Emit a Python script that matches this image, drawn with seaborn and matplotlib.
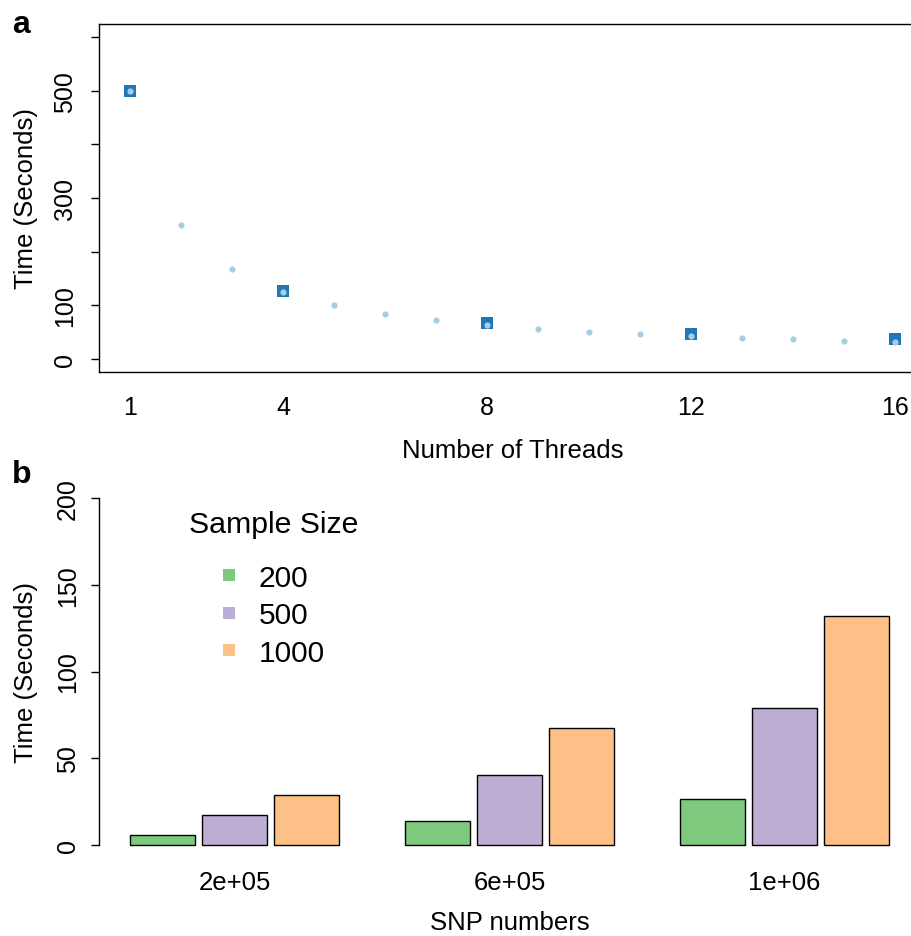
import matplotlib
matplotlib.use("Agg")
import matplotlib.pyplot as plt
from matplotlib.lines import Line2D
import seaborn as sns
import pandas as pd

# ---------------- data ----------------
threads = list(range(1, 17))
time_all = [500, 250, 167, 125, 100, 84, 72, 63, 56, 50, 46, 42, 38, 36, 33, 31]
threads_sel = [1, 4, 8, 12, 16]
time_sel = [500, 126, 66, 46, 36]
top_xticks = [1, 4, 8, 12, 16]
top_yticks = [0, 100, 200, 300, 400, 500, 600]
top_yticklabels = ["0", "100", "", "300", "", "500", ""]

snp_labels = ["2e+05", "6e+05", "1e+06"]
sample_sizes = ["200", "500", "1000"]
t200 = [5.9, 13.6, 26.7]
t500 = [17.4, 40.5, 78.8]
t1000 = [28.8, 67.2, 132.0]
bot_yticks = [0, 50, 100, 150, 200]

bar_colors = ["#7FC97F", "#BEAED4", "#FDC086"]
sq_color = "#1F78B4"
pt_color = "#A6CEE3"

sns.set_theme(style="white")
plt.rcParams["font.family"] = ["Liberation Sans", "DejaVu Sans"]
plt.rcParams["text.color"] = "black"

W, H = 911, 937
fig = plt.figure(figsize=(W / 100, H / 100), dpi=100)

def ax_rect(x0, y0, x1, y1):
    return [x0 / W, 1 - y1 / H, (x1 - x0) / W, (y1 - y0) / H]

# ---------------- panel a ----------------
ax1 = fig.add_axes(ax_rect(99.3, 25.2, 925.6, 372.6))
sns.scatterplot(x=threads_sel, y=time_sel, marker="s", s=72, color=sq_color,
                linewidth=0, ax=ax1, zorder=3)
sns.scatterplot(x=threads, y=time_all, marker="o", s=20, color=pt_color,
                linewidth=0, ax=ax1, zorder=4)
ax1.set_xlim(0.4, 16.6)
ax1.set_ylim(-24, 624)
ax1.set_xticks(top_xticks)
ax1.set_xticklabels([str(v) for v in top_xticks])
ax1.set_yticks(top_yticks)
ax1.set_yticklabels(top_yticklabels)
for sp in ax1.spines.values():
    sp.set_color("black")
    sp.set_linewidth(1.0)
ax1.tick_params(axis="x", length=0, pad=17, labelsize=18, colors="black")
ax1.tick_params(axis="y", length=6, width=1.0, pad=10, labelsize=18,
                colors="black", left=True)
plt.setp(ax1.get_yticklabels(), rotation=90, va="center")
ax1.set_xlabel("Number of Threads", fontsize=18.5, color="black", va="baseline")
ax1.xaxis.set_label_coords(0.5, -0.2458)
ax1.set_ylabel("Time (Seconds)", fontsize=18.5, color="black", va="baseline")
ax1.yaxis.set_label_coords(-0.0799, 0.5)

# ---------------- panel b ----------------
rows = []
for i, snp in enumerate(snp_labels):
    for ss, vals in zip(sample_sizes, [t200, t500, t1000]):
        rows.append({"snp": snp, "size": ss, "time": vals[i]})
df = pd.DataFrame(rows)

ax2 = fig.add_axes(ax_rect(99.3, 485.1, 919.6, 859.9))
sns.barplot(data=df, x="snp", y="time", hue="size", order=snp_labels,
            hue_order=sample_sizes, palette=bar_colors, saturation=1,
            width=0.7857, gap=0.0909, edgecolor="black", linewidth=1.0,
            errorbar=None, legend=False, ax=ax2)
ax2.set_xlim(-0.4915, 2.4915)
ax2.set_ylim(-8, 208)
ax2.set_yticks(bot_yticks)
ax2.set_yticklabels([str(v) for v in bot_yticks])
for s in ["top", "right", "bottom"]:
    ax2.spines[s].set_visible(False)
ax2.spines["left"].set_bounds(0, 200)
ax2.spines["left"].set_color("black")
ax2.spines["left"].set_linewidth(1.0)
ax2.tick_params(axis="x", length=0, pad=8, labelsize=18.5, colors="black")
ax2.tick_params(axis="y", length=6, width=1.0, pad=8, labelsize=18,
                colors="black", left=True)
plt.setp(ax2.get_yticklabels(), rotation=90, va="center")
ax2.set_xlabel("SNP numbers", fontsize=18.5, color="black", va="baseline")
ax2.xaxis.set_label_coords(0.5, -0.187)
ax2.set_ylabel("Time (Seconds)", fontsize=18.5, color="black", va="baseline")
ax2.yaxis.set_label_coords(-0.0805, 0.5)

handles = [Line2D([0], [0], marker="s", linestyle="none", markersize=9,
                  markerfacecolor=c, markeredgewidth=0) for c in bar_colors]
leg = ax2.legend(handles, sample_sizes, title="Sample Size", frameon=False,
                 fontsize=21.5, title_fontsize=21.8, loc="upper left",
                 bbox_to_anchor=(189.3 / W, 1 - 511 / H),
                 bbox_transform=fig.transFigure, borderpad=0, borderaxespad=0,
                 handlelength=0.4, handletextpad=0.77, labelspacing=0.32,
                 alignment="center")
leg._legend_box.sep = 18.4
for t in leg.get_texts():
    t.set_color("black")
leg.get_title().set_color("black")

# ---------------- panel letters ----------------
fig.text(12 / W, 1 - 33 / H, "a", fontsize=23, fontweight="bold",
         va="baseline", color="black")
fig.text(12 / W, 1 - 483 / H, "b", fontsize=23, fontweight="bold",
         va="baseline", color="black")

fig.savefig("out.png", dpi=100)
